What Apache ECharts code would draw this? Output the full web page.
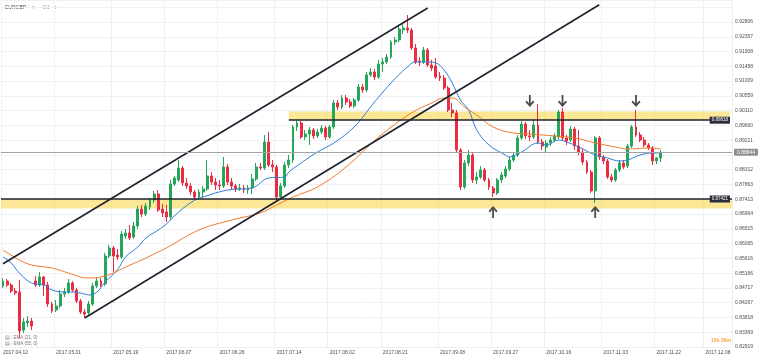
<!DOCTYPE html>
<html><head><meta charset="utf-8">
<script src="https://cdn.jsdelivr.net/npm/echarts@6/dist/echarts.min.js"></script>
<style>html,body{margin:0;padding:0;background:#fff}#c{width:760px;height:360px}</style>
</head><body><div id="c"></div>
<script>
const FONT = 'Liberation Sans, Arial, sans-serif';
// x-axis tick labels shown
const tickDates = ['2017.04.12','2017.05.01','2017.05.19','2017.06.07','2017.06.26','2017.07.14','2017.08.02','2017.08.21','2017.09.08','2017.09.27','2017.10.16','2017.11.03','2017.11.22','2017.12.08'];
// y-axis tick labels (bottom to top); hidden one behind the price tag left empty
const yTickLabels = ['0.82919','0.83369','0.83818','0.84267','0.84717','0.85166','0.85616','0.86065','0.86515','0.86964','0.87413','0.87863','0.88312','','0.89211','0.89660','0.90110','0.90559','0.91009','0.91458','0.91908','0.92357','0.92806'];
const yMin = 0.82919, yStep = 0.0044941, yMax = 0.93475;

const opens = [
.84775,.84927,.84805,.84623,.84592,.83436,.83649,.83710,.84927,.84805,
.85049,.84805,.84227,.84045,.84167,.84532,.84592,.84866,.84653,.84319,
.83984,.83954,.84227,.84775,.84927,.84836,.85688,.85931,.85718,.85657,
.86296,.86387,.86266,.86600,.87117,.86965,.87178,.87391,.87574,.87117,
.87026,.86874,.87878,.87999,.88364,.87908,.87817,.87634,.87482,.87634,
.87726,.88121,.87939,.87847,.87817,.88395,.87939,.87817,.87726,.87756,
.87695,.87756,.88030,.88395,.88364,.89155,.88456,.88395,.87482,.87817,
.88456,.88608,.89612,.89733,.89308,.89399,.89520,.89338,.89460,.89581,
.89308,.89612,.90342,.90220,.90494,.90372,.90251,.90433,.90829,.90737,
.91194,.91285,.91133,.91528,.91589,.91741,.92197,.92258,.92562,.92623,
.92562,.92015,.91619,.91589,.91954,.91498,.91467,.91163,.91102,.90798,
.90129,.90038,.88912,.87787,.88517,.88760,.87999,.88091,.88304,.87999,
.87756,.87604,.87999,.88121,.88334,.88608,.88760,.89277,.89703,.89338,
.89308,.89673,.89155,.89003,.89125,.89216,.89308,.90068,.89277,.89216,
.89551,.89034,.88851,.88547,.88243,.87665,.89277,.88699,.88577,.88091,
.87999,.88304,.88517,.88425,.89034,.89612,.89368,.89216,.89064,.88973,
.88577,.88669];
const closes = [
.84927,.84805,.84623,.84562,.83406,.83680,.83710,.83558,.84805,.85049,
.84805,.84227,.84014,.84167,.84532,.84592,.84866,.84653,.84319,.83984,
.83923,.84227,.84775,.84927,.84805,.85688,.85931,.85688,.85657,.86357,
.86387,.86235,.86600,.87117,.86965,.87209,.87391,.87574,.87087,.86996,
.86874,.87878,.88060,.88364,.87908,.87817,.87634,.87482,.87634,.87726,
.88121,.87939,.87847,.87817,.88395,.87939,.87817,.87726,.87756,.87695,
.87756,.88030,.88395,.88364,.89155,.88456,.88395,.87482,.87817,.88456,
.88608,.89612,.89733,.89308,.89399,.89520,.89338,.89460,.89581,.89308,
.89612,.90342,.90220,.90494,.90372,.90251,.90433,.90829,.90737,.91194,
.91285,.91133,.91528,.91589,.91741,.92197,.92258,.92593,.92623,.92562,
.92015,.91589,.91589,.91954,.91498,.91406,.91133,.91102,.90798,.90129,
.90038,.88912,.87787,.88517,.88760,.87999,.88091,.88304,.87999,.87787,
.87604,.87999,.88152,.88334,.88608,.88760,.89277,.89703,.89338,.89308,
.89673,.89155,.89034,.89125,.89216,.89338,.90068,.89277,.89186,.89551,
.89034,.88851,.88547,.88243,.87665,.89277,.88699,.88577,.88091,.87999,
.88304,.88517,.88395,.89034,.89612,.89368,.89216,.89064,.88973,.88577,
.88669,.88844];
const highs = [
.85018,.84988,.84866,.84714,.84957,.83801,.83862,.83801,.85079,.85201,
.85079,.84897,.84288,.84349,.84653,.84714,.84988,.84927,.84714,.84379,
.84075,.84319,.84866,.85049,.85018,.85779,.86022,.85992,.85900,.86448,
.86509,.86631,.86722,.87209,.87239,.87300,.87452,.87665,.87695,.87269,
.87239,.87999,.88121,.88608,.88425,.88060,.87908,.87695,.87726,.87817,
.88608,.88243,.88060,.87999,.88699,.88486,.88060,.87878,.87878,.87847,
.87847,.88182,.88517,.88517,.89368,.89460,.88608,.88456,.87908,.88547,
.88760,.89673,.89825,.89794,.89520,.89612,.89581,.89551,.89673,.89642,
.89673,.90433,.90433,.90585,.90585,.90463,.90494,.90920,.90920,.91285,
.91406,.91376,.91650,.91711,.91832,.92258,.92349,.92684,.92745,.93019,
.92623,.92137,.91741,.92045,.92015,.91650,.91711,.91285,.91194,.90859,
.90342,.90129,.88973,.88608,.88912,.88821,.88243,.88425,.88364,.88060,
.87817,.88060,.88243,.88425,.88699,.88851,.89368,.89794,.89764,.89520,
.89825,.90311,.89247,.89216,.89308,.89429,.90129,.90190,.89368,.89642,
.89612,.89520,.88942,.88608,.88304,.89338,.89338,.88760,.88638,.88182,
.88364,.88608,.88608,.89095,.89673,.90129,.89460,.89308,.89125,.89034,
.88699,.88912];
const lows = [
.84714,.84745,.84562,.84501,.83193,.83345,.83528,.83436,.84745,.84745,
.84471,.84136,.83954,.83984,.84106,.84440,.84532,.84592,.84258,.83923,
.83801,.83862,.84167,.84714,.84745,.84775,.85627,.85201,.85566,.85596,
.86205,.86174,.86205,.86509,.86874,.86904,.87087,.87300,.87026,.86874,
.86722,.86783,.87817,.87939,.87817,.87726,.87543,.87391,.87421,.87482,
.87665,.87847,.87695,.87695,.87756,.87847,.87695,.87634,.87665,.87604,
.87574,.87574,.87969,.88304,.88304,.88395,.88243,.87391,.87421,.87756,
.88364,.88517,.89490,.89247,.89216,.89064,.89247,.89277,.89399,.89216,
.89247,.89551,.90129,.90159,.90281,.90190,.90190,.90372,.90646,.90676,
.91133,.91041,.91072,.91285,.91528,.91680,.92106,.92197,.92441,.92471,
.91954,.91528,.91467,.91528,.91437,.91315,.91072,.91011,.90737,.90068,
.89916,.88851,.87695,.87726,.88425,.87908,.87878,.88030,.87939,.87695,
.87482,.87543,.87908,.88060,.88273,.88547,.88699,.89216,.89247,.89186,
.89247,.89095,.88912,.88851,.89034,.89155,.89247,.89186,.89064,.89155,
.88912,.88760,.88456,.88182,.87604,.87300,.88608,.88486,.88030,.87939,
.87939,.88243,.88334,.88364,.88973,.89308,.89155,.89003,.88912,.88456,
.88486,.88547];

// EMA lines at selected bars
const ema21Idx = [0,2,4,7,10,12,15,17,20,21,23,25,28,30,33,35,38,40,43,47,49,55,61,65,69,70,73,77,81,86,90,92,95,99,101,104,106,108,110,112,114,116,119,123,124,127,131,133,136,138,141,145,148,151,153,156,159,161];
const ema21Val = [.85657,.85475,.85170,.84866,.84805,.84653,.84592,.84592,.84532,.84501,.84592,.84897,.85262,.85657,.85961,.86235,.86478,.86661,.87026,.87391,.87482,.87695,.87756,.88060,.88091,.88243,.88517,.88851,.89125,.89612,.90220,.90524,.90950,.91437,.91589,.91589,.91559,.91346,.90950,.90433,.90129,.89521,.89064,.88760,.88699,.88851,.89125,.89064,.89216,.89155,.89003,.88760,.88669,.88578,.88608,.88760,.88821,.88821];
const ema55Idx = [0,4,7,12,16,19,21,24,27,30,34,38,40,48,56,63,67,71,77,84,92,100,105,108,110,113,116,120,125,129,135,140,145,150,153,158,161];
const ema55Val = [.85870,.85566,.85414,.85322,.85170,.85049,.85018,.85049,.85170,.85353,.85566,.85809,.85931,.86479,.86783,.86996,.87239,.87482,.87787,.88395,.89307,.90037,.90342,.90494,.90494,.90220,.89977,.89612,.89429,.89399,.89338,.89277,.89125,.89003,.88942,.88973,.88942];

// support / resistance zones and trend lines (bar index, price)
const upperZone = {fromBar:70, top:0.90080, bottom:0.89818, label:'0.89818'};
const lowerZone = {top:0.87421, bottom:0.87132, label:'0.87421'};
const channelUpper = [[0,0.85450],[104,0.93232]];
const channelLower = [[20,0.83801],[146,0.93332]];
const lastPrice = 0.88844;
const downArrows = [[129,0.90402],[137,0.90402],[155,0.90402]];
const upArrows = [[120,0.87026],[145,0.87026]];

// weekday categories
const categories = [];
(function(){
  let t = Date.UTC(2017,3,12);
  while (categories.length < 179) {
    const d = new Date(t);
    const wd = d.getUTCDay();
    if (wd !== 0 && wd !== 6) {
      const mm = String(d.getUTCMonth()+1).padStart(2,'0');
      const dd = String(d.getUTCDate()).padStart(2,'0');
      categories.push(d.getUTCFullYear()+'.'+mm+'.'+dd);
    }
    t += 86400000;
  }
})();
const tickSet = new Set(tickDates);
const lastCat = categories[categories.length-1];

const UP = '#26a65b', DOWN = '#ec2c43';
const candleData = opens.map((o,i)=>[o, closes[i], lows[i], highs[i]]);
const arrowPath = 'path://M4,0 L6,0 L6,8.2 L8.6,5.6 L10,7 L5,12 L0,7 L1.4,5.6 L4,8.2 Z';

const chart = echarts.init(document.getElementById('c'), null, {renderer:'canvas'});
chart.setOption({
  animation:false,
  backgroundColor:'#ffffff',
  textStyle:{fontFamily:FONT},
  grid:{left:0,right:28,top:0,bottom:13,containLabel:false},
  xAxis:{
    type:'category', data:categories, boundaryGap:true,
    axisLine:{show:false}, axisTick:{show:false},
    axisLabel:{interval:(i,v)=>tickSet.has(v), align:'left', fontSize:5, color:'#4d4d4d', margin:3, fontFamily:FONT},
    splitLine:{show:true, interval:(i,v)=>tickSet.has(v), lineStyle:{color:'#eef0f3', width:1}}
  },
  yAxis:{
    type:'value', position:'right', min:yMin, max:yMax, interval:yStep,
    axisLine:{show:false}, axisTick:{show:false},
    axisLabel:{fontSize:5, color:'#4d4d4d', margin:3, fontFamily:FONT,
      formatter:(v)=>{const k=Math.round((v-yMin)/yStep); return yTickLabels[k]||'';}},
    splitLine:{lineStyle:{color:'#eef0f3', width:1}}
  },
  series:[
    {type:'candlestick', data:candleData, barWidth:2.4, z:2,
     itemStyle:{color:UP, color0:DOWN, borderColor:UP, borderColor0:DOWN, borderWidth:1}},
    {type:'line', data:ema21Idx.map((k,j)=>[k, ema21Val[j]]), smooth:0.4, showSymbol:false, z:3,
     lineStyle:{color:'#2f7fd6', width:1}},
    {type:'line', data:ema55Idx.map((k,j)=>[k, ema55Val[j]]), smooth:0.4, showSymbol:false, z:3,
     lineStyle:{color:'#f47a2c', width:1}},
    {type:'line', data:[], z:5, silent:true,
     markArea:{silent:true, itemStyle:{color:'rgba(250,208,45,0.5)'}, label:{show:false},
       data:[
         [{xAxis:categories[upperZone.fromBar], yAxis:upperZone.top},{xAxis:lastCat, yAxis:upperZone.bottom}],
         [{yAxis:lowerZone.top},{yAxis:lowerZone.bottom}]
       ]},
     markLine:{silent:true, precision:6, symbol:['none','none'], label:{show:false},
       lineStyle:{type:'solid', color:'#1e222d', width:1.6},
       data:[
         [{coord:[categories[upperZone.fromBar], upperZone.bottom]},{coord:[lastCat, upperZone.bottom]}],
         {yAxis:lowerZone.top},
         [{coord:[categories[channelUpper[0][0]], channelUpper[0][1]]},{coord:[categories[channelUpper[1][0]], channelUpper[1][1]]}],
         [{coord:[categories[channelLower[0][0]], channelLower[0][1]]},{coord:[categories[channelLower[1][0]], channelLower[1][1]]}],
         {yAxis:lastPrice, lineStyle:{color:'#a3a3a3', width:1},
          label:{show:true, position:'end', distance:2, formatter:lastPrice.toFixed(5), fontSize:5, color:'#fff',
            backgroundColor:'#8e8e8e', padding:[1,3,1,3], borderRadius:1, fontFamily:FONT}}
       ]},
     markPoint:{silent:true, symbol:'rect', symbolSize:[0,0],
       label:{show:true, position:'left', distance:0, fontSize:4.5, color:'#fff', backgroundColor:'#2a2e39', padding:[1,2,1,2], fontFamily:FONT},
       data:[
         {coord:[lastCat, upperZone.bottom], value:upperZone.label, label:{formatter:upperZone.label}},
         {coord:[lastCat, lowerZone.top], value:lowerZone.label, label:{formatter:lowerZone.label}}
       ]}
    },
    {type:'scatter', data:downArrows, symbol:arrowPath, symbolSize:[9,12], z:6, itemStyle:{color:'#222'}},
    {type:'scatter', data:upArrows, symbol:arrowPath, symbolSize:[9,12], symbolRotate:180, z:6, itemStyle:{color:'#222'}}
  ],
  graphic:[
    {type:'text', left:5, top:5, style:{text:'EURGBP', fill:'#444', font:'5px '+FONT}},
    {type:'text', left:28, top:5, style:{text:'⫶  ▾      D1   ▾', fill:'#999', font:'5px '+FONT}},
    {type:'text', left:5, top:335, style:{text:'▤ ⫶ EMA (21, 0)', fill:'#777', font:'4.5px '+FONT}},
    {type:'text', left:5, top:341.5, style:{text:'▤ ⫶ EMA (55, 0)', fill:'#777', font:'4.5px '+FONT}},
    {type:'text', left:711, top:338, style:{text:'15h 38m', fill:'#f5a03c', font:'bold 5px '+FONT}}
  ]
});
</script></body></html>
